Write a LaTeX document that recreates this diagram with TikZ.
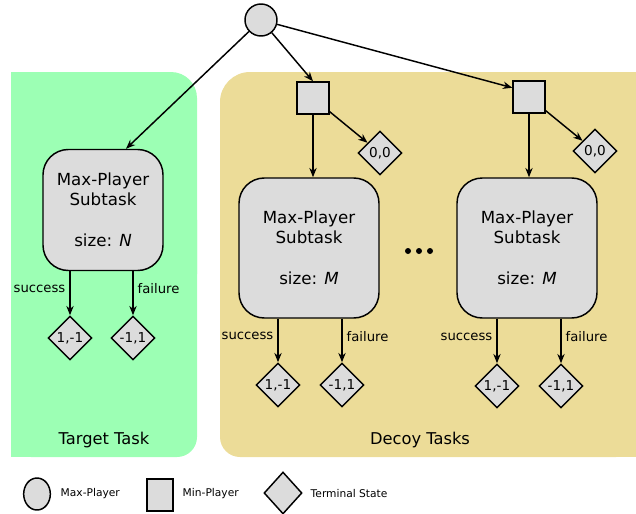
\documentclass[tikz,border=0pt]{standalone}
\usepackage{fontspec}
\setmainfont{DejaVu Sans}
\usetikzlibrary{shapes.geometric,arrows.meta,calc}
\definecolor{tgreen}{RGB}{156,255,180}
\definecolor{dyellow}{RGB}{236,220,152}
\definecolor{nodegray}{RGB}{220,220,220}
\begin{document}
\begin{tikzpicture}[x=0.75pt,y=-0.75pt,
  line width=1.1pt,
  arr/.style={-{Stealth[length=7pt,width=5.5pt]}},
  maxc/.style={circle,draw,fill=nodegray,minimum size=24pt,inner sep=0pt},
  minsq/.style={rectangle,draw,fill=nodegray,minimum size=24pt,inner sep=0pt},
  term/.style={diamond,draw,fill=nodegray,minimum width=33pt,minimum height=33pt,inner sep=0pt,font=\fontsize{10.2pt}{12pt}\selectfont},
  sub/.style={rectangle,draw,fill=nodegray,rounded corners=19pt,align=center,font=\fontsize{12.5pt}{15pt}\selectfont},
  lbl/.style={font=\fontsize{9.9pt}{12pt}\selectfont,inner sep=3pt},
  region/.style={font=\fontsize{12.2pt}{14pt}\selectfont,inner sep=0pt},
  lgd/.style={font=\fontsize{8pt}{10pt}\selectfont,inner sep=0pt,anchor=west},
  dotn/.style={circle,fill,minimum size=4.5pt,inner sep=0pt}]
\useasboundingbox (0,0) rectangle (636,514);
% regions
\fill[tgreen,rounded corners=19.5pt] (11,72) rectangle (197,300);
\fill[tgreen,rounded corners=15pt] (11,200) rectangle (197,457);
\fill[tgreen] (11,72) rectangle (120,457);
\fill[dyellow,rounded corners=22.5pt] (220,72) rectangle (636,300);
\fill[dyellow,rounded corners=15pt] (220,200) rectangle (636,457);
\fill[dyellow] (400,72) rectangle (636,457);
\node[region] (tt) at (104,440) {Target Task};
\node[region] (dt) at (420,440) {Decoy Tasks};
% nodes
\node[maxc] (root) at (261,20) {};
\node[minsq] (s1) at (313,98) {};
\node[minsq] (s2) at (529,97) {};
\node[term] (z1) at (380,153) {0,0};
\node[term] (z2) at (595,151) {0,0};
\node[sub,minimum width=90pt,minimum height=90.75pt] (g) at (103,210)
  {Max-Player\\Subtask\\[16pt]size: \textit{N}};
\node[sub,minimum width=105pt,minimum height=105pt] (y1) at (309,248)
  {Max-Player\\Subtask\\[16pt]size: \textit{M}};
\node[sub,minimum width=105pt,minimum height=105pt] (y2) at (527,248)
  {Max-Player\\Subtask\\[16pt]size: \textit{M}};
\node[dotn] (d1) at (408,251) {};
\node[dotn] (d2) at (419,251) {};
\node[dotn] (d3) at (430,251) {};
\node[term] (gs) at (70,338) {1,-1};
\node[term] (gf) at (133,338) {-1,1};
\node[term] (ys1) at (278,385) {1,-1};
\node[term] (yf1) at (342,385) {-1,1};
\node[term] (ys2) at (497,386) {1,-1};
\node[term] (yf2) at (561,386) {-1,1};
\coordinate (gt) at ($(g.north)+(23,0)$);
% edges
\draw[arr] (root) -- (gt);
\draw[arr] (root) -- (s1.north);
\draw[arr] (root) -- (s2.151);
\draw[arr] (s1) -- (z1);
\draw[arr] (s2) -- (z2);
\draw[arr] (s1.south) -- (s1.south |- y1.north);
\draw[arr] (s2.south) -- (s2.south |- y2.north);
\draw[arr] (g.south -| gs) -- node[lbl,left,pos=0.4] {success} (gs);
\draw[arr] (g.south -| gf) -- node[lbl,right,pos=0.4] {failure} (gf);
\draw[arr] (y1.south -| ys1) -- node[lbl,left,pos=0.4] {success} (ys1);
\draw[arr] (y1.south -| yf1) -- node[lbl,right,pos=0.4] {failure} (yf1);
\draw[arr] (y2.south -| ys2) -- node[lbl,left,pos=0.4] {success} (ys2);
\draw[arr] (y2.south -| yf2) -- node[lbl,right,pos=0.4] {failure} (yf2);
% legend
\node[ellipse,draw,fill=nodegray,minimum width=20pt,minimum height=24pt,inner sep=0pt] (lc) at (37,494) {};
\node[lgd] (lct) at (60,494) {Max-Player};
\node[rectangle,draw,fill=nodegray,minimum width=19.5pt,minimum height=24pt,inner sep=0pt] (ls) at (160,495) {};
\node[lgd] (lst) at (182,494) {Min-Player};
\node[diamond,draw,fill=nodegray,minimum width=28.5pt,minimum height=31.5pt,inner sep=0pt] (ld) at (283,493) {};
\node[lgd] (ldt) at (310,494) {Terminal State};
\end{tikzpicture}
\end{document}
